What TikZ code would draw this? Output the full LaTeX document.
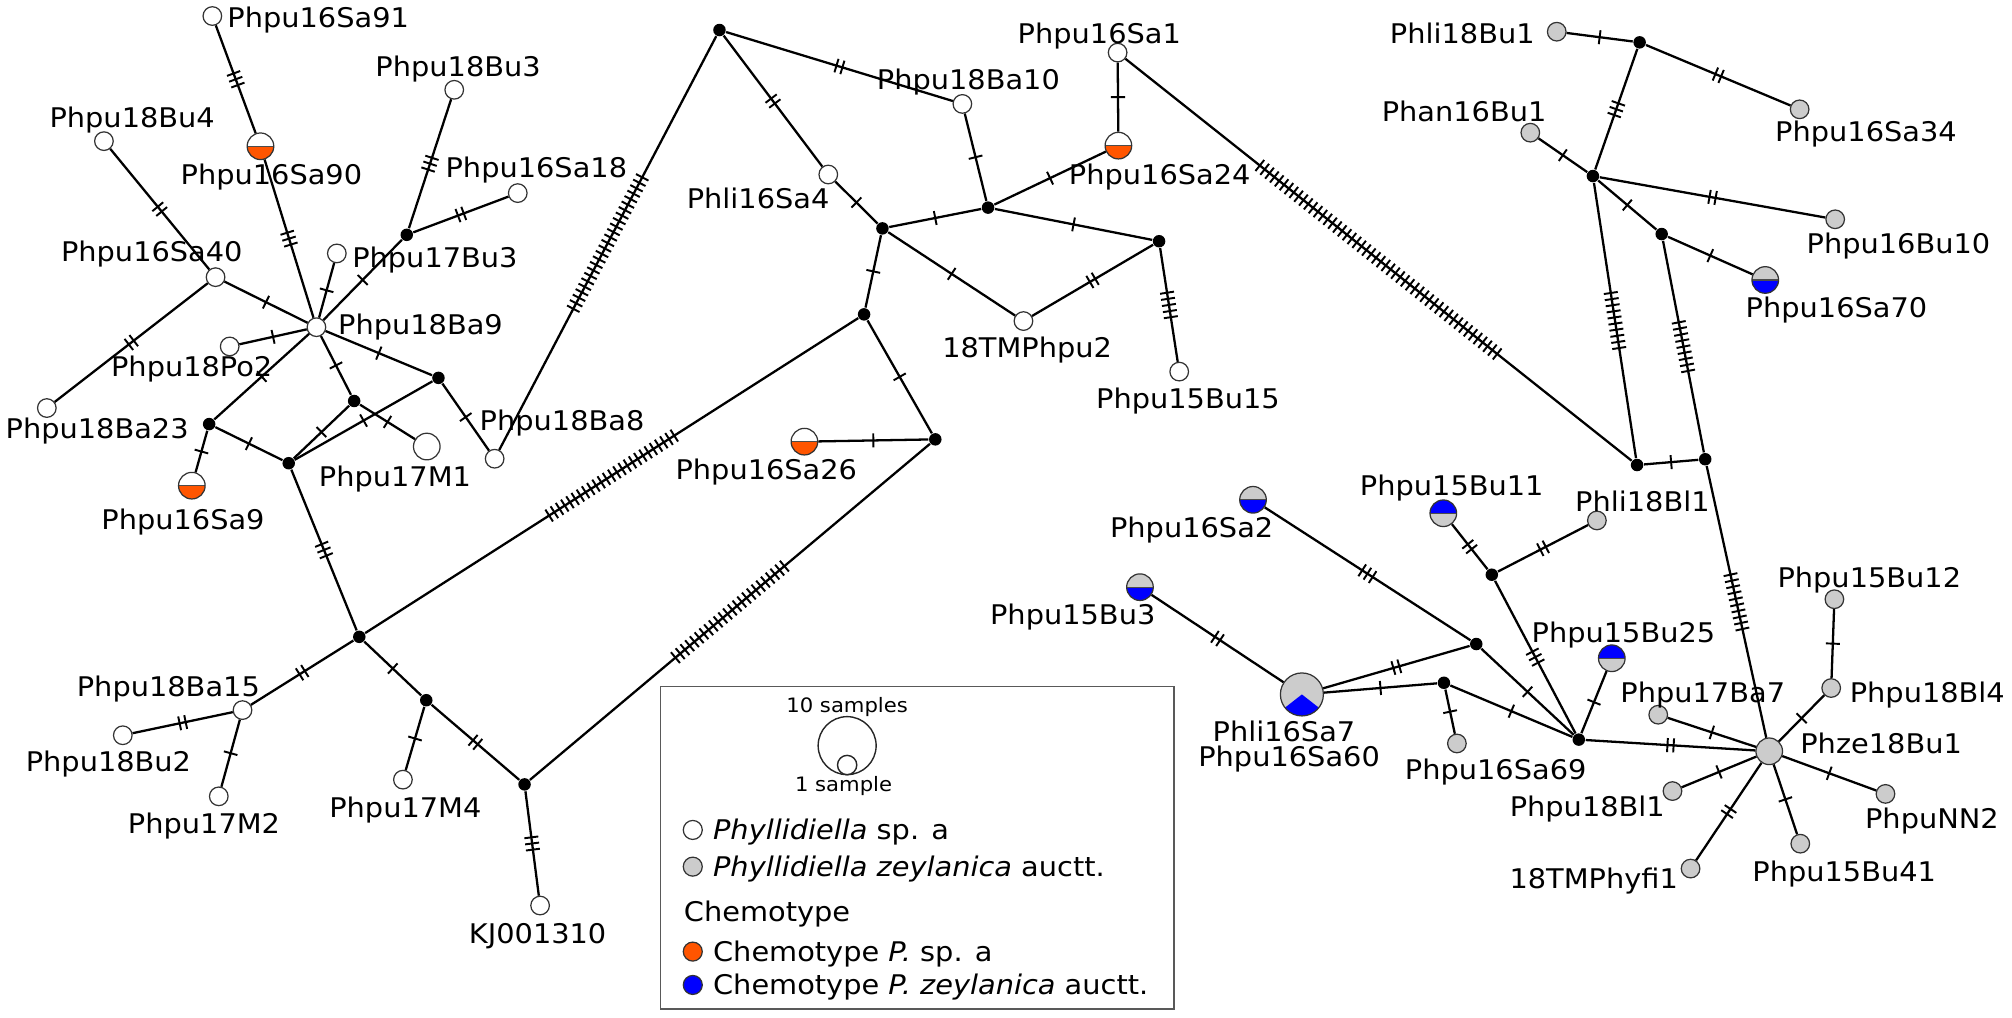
\documentclass[tikz,border=0pt]{standalone}
\usepackage{fontspec}
\setmainfont{DejaVu Sans}[FakeStretch=1.065]
\usetikzlibrary{decorations.markings}
\definecolor{chemo}{RGB}{255,85,0}
\definecolor{zgray}{RGB}{204,204,204}
\definecolor{zblue}{RGB}{0,0,255}
\tikzset{
  edge/.style={line width=0.65pt, black},
  tk/.style={postaction={decorate,decoration={markings,mark=at position 0.5 with {\foreach \k in {1,...,#1}{\draw[line width=0.55pt] ({(\k-(#1+1)/2)*1.76pt},-2pt) -- ({(\k-(#1+1)/2)*1.76pt},2pt);}}}}},
  hap/.style={circle, draw=black!80, line width=0.35pt, inner sep=0pt, minimum size=0.186cm, fill=white},
  hap2/.style={hap, minimum size=0.266cm},
  wh/.style={hap},
  gr/.style={hap, fill=zgray},
  dot/.style={circle, fill=black, inner sep=0pt, minimum size=0.125cm},
  split/.style 2 args={hap2, fill=#1, path picture={\fill[#2] (path picture bounding box.west) rectangle (path picture bounding box.south east); \draw[line width=0.35pt, black!70] (path picture bounding box.west) -- (path picture bounding box.east);}},
  lab/.style={font=\fontsize{7.7pt}{9pt}\selectfont, inner sep=0pt, text height=5.6pt, text depth=0pt, text=black},
  smalllab/.style={font=\fontsize{5.65pt}{6.5pt}\selectfont, inner sep=0pt, text height=4.12pt, text depth=0pt, text=black},
}
\begin{document}
\begin{tikzpicture}[x=0.012832cm, y=-0.012832cm]
\useasboundingbox (0,0) rectangle (1568,793);
% ---------- left cluster
\node[wh] (sa91) at (165.5,12.5) {};
\node[wh] (bu3) at (354,70) {};
\node[wh] (bu4) at (81,110) {};
\node[split={white}{chemo}] (sa90) at (203,114) {};
\node[dot] (nA) at (317,183) {};
\node[wh] (sa18) at (403.5,150.5) {};
\node[wh] (b17bu3) at (262.5,197.5) {};
\node[wh] (sa40) at (168,216) {};
\node[wh] (ba9) at (246.6,255) {};
\node[wh] (ba23) at (36.5,318) {};
\node[wh] (po2) at (179,270) {};
\node[dot] (nB) at (341.7,294.5) {};
\node[dot] (nC) at (276,312.5) {};
\node[hap2] (m1) at (332.6,348) {};
\node[dot] (nD) at (163,330.5) {};
\node[dot] (nE) at (225,361) {};
\node[wh] (ba8) at (385.5,357.5) {};
\node[split={white}{chemo}] (sa9) at (149.5,378.5) {};
\node[dot] (nF) at (280,496.3) {};
\node[wh] (ba15) at (189,553.4) {};
\node[wh] (bu2) at (95.7,573) {};
\node[wh] (m2) at (170.5,620.6) {};
\node[dot] (nG) at (332.2,545.7) {};
\node[wh] (m4) at (314,607.6) {};
\node[dot] (nH) at (408.8,611.3) {};
\node[wh] (kj) at (420.9,705.7) {};
% ---------- middle
\node[dot] (nK) at (560.7,23.4) {};
\node[wh] (ba10) at (750,81) {};
\node[wh] (sa4) at (645.5,136) {};
\node[dot] (nL) at (687.7,178) {};
\node[dot] (nM) at (770,161.8) {};
\node[wh] (sa1) at (871,41) {};
\node[split={white}{chemo}] (sa24) at (871.6,113.5) {};
\node[dot] (nN) at (903.3,188) {};
\node[wh] (tm2) at (797.6,250.2) {};
\node[wh] (bu15) at (919,289.6) {};
\node[dot] (nI) at (673.4,245) {};
\node[dot] (nJ) at (728.9,342.4) {};
\node[split={white}{chemo}] (sa26) at (626.9,344.2) {};
% ---------- right
\node[gr] (li18bu1) at (1213.2,24.7) {};
\node[dot] (nO) at (1277.8,33) {};
\node[gr] (sa34) at (1402.5,85.2) {};
\node[gr] (an16bu1) at (1192.6,103.4) {};
\node[dot] (nP) at (1241.4,137.2) {};
\node[gr] (bu10) at (1430.2,170.9) {};
\node[dot] (nQ) at (1295,182.4) {};
\node[split={zgray}{zblue}] (sa70) at (1375.7,218.2) {};
\node[dot] (nR) at (1275.8,362.4) {};
\node[dot] (nS) at (1328.9,357.9) {};
\node[split={zgray}{zblue}] (sa2) at (976.5,389.5) {};
\node[split={zblue}{zgray}] (bu11) at (1124.8,400) {};
\node[gr] (li18bl1) at (1244.5,405.6) {};
\node[dot] (nT) at (1162.6,447.9) {};
\node[split={zgray}{zblue}] (bu3b) at (888.4,457.6) {};
\node[dot] (nU) at (1150.5,501.9) {};
\node[hap, fill=zgray, minimum size=0.43cm, path picture={\fill[zblue] (path picture bounding box.center) -- ++(-142:0.5cm) -- ++(0.788cm,0pt) -- cycle;}] (sa7) at (1014.6,541.2) {};
\node[dot] (nV) at (1125.3,532.1) {};
\node[gr] (sa69) at (1135.4,579.4) {};
\node[dot] (nW) at (1230.4,576.4) {};
\node[split={zblue}{zgray}] (bu25) at (1256.1,513) {};
\node[gr, minimum size=0.266cm] (ze) at (1378.8,585.5) {};
\node[gr] (bu12) at (1429.6,467) {};
\node[gr] (bl4) at (1427.1,536.2) {};
\node[gr] (ba7) at (1292.3,557) {};
\node[gr] (bl1) at (1303.4,616.5) {};
\node[gr] (nn2) at (1469.4,618.7) {};
\node[gr] (bu41) at (1403,657.5) {};
\node[gr] (fi1) at (1317.5,676.9) {};
% ---------- edges left
\draw[edge,tk=3] (sa91) -- (sa90);
\draw[edge,tk=3] (sa90) -- (ba9);
\draw[edge,tk=3] (bu3) -- (nA);
\draw[edge,tk=2] (nA) -- (sa18);
\draw[edge,tk=1] (nA) -- (ba9);
\draw[edge,tk=1] (b17bu3) -- (ba9);
\draw[edge,tk=2] (bu4) -- (sa40);
\draw[edge,tk=1] (sa40) -- (ba9);
\draw[edge,tk=2] (sa40) -- (ba23);
\draw[edge,tk=1] (po2) -- (ba9);
\draw[edge,tk=1] (ba9) -- (nB);
\draw[edge,tk=1] (ba9) -- (nC);
\draw[edge,tk=1] (ba9) -- (nD);
\draw[edge,tk=1] (nC) -- (m1);
\draw[edge,tk=1] (nC) -- (nE);
\draw[edge,tk=1] (nE) -- (nB);
\draw[edge,tk=1] (nD) -- (nE);
\draw[edge,tk=1] (nD) -- (sa9);
\draw[edge,tk=1] (nB) -- (ba8);
\draw[edge,tk=3] (nE) -- (nF);
\draw[edge,tk=2] (nF) -- (ba15);
\draw[edge,tk=2] (ba15) -- (bu2);
\draw[edge,tk=1] (ba15) -- (m2);
\draw[edge,tk=1] (nF) -- (nG);
\draw[edge,tk=1] (nG) -- (m4);
\draw[edge,tk=2] (nG) -- (nH);
\draw[edge,tk=3] (nH) -- (kj);
% ---------- edges middle
\draw[edge,tk=25] (nK) -- (ba8);
\draw[edge,tk=2] (nK) -- (ba10);
\draw[edge,tk=2] (nK) -- (sa4);
\draw[edge,tk=1] (sa4) -- (nL);
\draw[edge,tk=1] (nL) -- (nM);
\draw[edge,tk=1] (ba10) -- (nM);
\draw[edge,tk=1] (nM) -- (sa24);
\draw[edge,tk=1] (sa1) -- (sa24);
\draw[edge,tk=1] (nM) -- (nN);
\draw[edge,tk=1] (nL) -- (tm2);
\draw[edge,tk=2] (nN) -- (tm2);
\draw[edge,tk=5] (nN) -- (bu15);
\draw[edge,tk=1] (nL) -- (nI);
\draw[edge,tk=1] (nI) -- (nJ);
\draw[edge,tk=1] (nJ) -- (sa26);
\draw[edge,tk=25] (nI) -- (nF);
\draw[edge,tk=24] (nJ) -- (nH);
% ---------- edges right
\draw[edge,tk=1] (li18bu1) -- (nO);
\draw[edge,tk=2] (nO) -- (sa34);
\draw[edge,tk=3] (nO) -- (nP);
\draw[edge,tk=1] (an16bu1) -- (nP);
\draw[edge,tk=2] (nP) -- (bu10);
\draw[edge,tk=1] (nP) -- (nQ);
\draw[edge,tk=1] (nQ) -- (sa70);
\draw[edge,tk=10] (nP) -- (nR);
\draw[edge,tk=9] (nQ) -- (nS);
\draw[edge,tk=1] (nR) -- (nS);
\draw[edge,tk=50] (sa1) -- (nR);
\draw[edge,tk=10] (nS) -- (ze);
\draw[edge,tk=3] (sa2) -- (nU);
\draw[edge,tk=2] (bu11) -- (nT);
\draw[edge,tk=2] (li18bl1) -- (nT);
\draw[edge,tk=3] (nT) -- (nW);
\draw[edge,tk=2] (bu3b) -- (sa7);
\draw[edge,tk=2] (sa7) -- (nU);
\draw[edge,tk=1] (sa7) -- (nV);
\draw[edge,tk=1] (nV) -- (sa69);
\draw[edge,tk=1] (nV) -- (nW);
\draw[edge,tk=1] (nU) -- (nW);
\draw[edge,tk=1] (bu25) -- (nW);
\draw[edge,tk=2] (nW) -- (ze);
\draw[edge,tk=1] (ze) -- (ba7);
\draw[edge,tk=1] (ze) -- (bl4);
\draw[edge,tk=1] (bl4) -- (bu12);
\draw[edge,tk=1] (ze) -- (bl1);
\draw[edge,tk=2] (ze) -- (fi1);
\draw[edge,tk=1] (ze) -- (bu41);
\draw[edge,tk=1] (ze) -- (nn2);
% ---------- labels
\node[lab,anchor=west] (l-sa91) at (176.7,14) {Phpu16Sa91};
\node[lab] (l-bu3) at (357,52) {Phpu18Bu3};
\node[lab] (l-bu4) at (103,91.4) {Phpu18Bu4};
\node[lab] (l-sa90) at (211.5,136.4) {Phpu16Sa90};
\node[lab] (l-sa18) at (418,131) {Phpu16Sa18};
\node[lab,anchor=west] (l-17bu3) at (274,201) {Phpu17Bu3};
\node[lab] (l-sa40) at (118.3,196.1) {Phpu16Sa40};
\node[lab,anchor=west] (l-ba9) at (263,253.3) {Phpu18Ba9};
\node[lab] (l-ba23) at (75.7,333.8) {Phpu18Ba23};
\node[lab] (l-po2) at (149.4,285.7) {Phpu18Po2};
\node[lab] (l-m1) at (307.8,371.5) {Phpu17M1};
\node[lab] (l-ba8) at (438,328) {Phpu18Ba8};
\node[lab] (l-sa9) at (142.6,405.2) {Phpu16Sa9};
\node[lab] (l-ba15) at (131.2,535) {Phpu18Ba15};
\node[lab] (l-bu2) at (84.5,593.2) {Phpu18Bu2};
\node[lab] (l-m2) at (159,642) {Phpu17M2};
\node[lab] (l-m4) at (315.9,629.1) {Phpu17M4};
\node[lab] (l-kj) at (419,728) {KJ001310};
\node[lab] (l-ba10) at (754.7,62.3) {Phpu18Ba10};
\node[lab] (l-sa4) at (590.8,155.1) {Phli16Sa4};
\node[lab] (l-sa1) at (856.7,26) {Phpu16Sa1};
\node[lab] (l-sa24) at (903.8,136.4) {Phpu16Sa24};
\node[lab] (l-tm2) at (800.5,270.9) {18TMPhpu2};
\node[lab] (l-bu15) at (925.8,310.9) {Phpu15Bu15};
\node[lab] (l-sa26) at (597.2,366.3) {Phpu16Sa26};
\node[lab] (l-li18bu1) at (1139.6,26) {Phli18Bu1};
\node[lab] (l-sa34) at (1454.2,102.6) {Phpu16Sa34};
\node[lab] (l-an16bu1) at (1141,87) {Phan16Bu1};
\node[lab] (l-bu10) at (1479.5,189.6) {Phpu16Bu10};
\node[lab] (l-sa70) at (1431.2,239.5) {Phpu16Sa70};
\node[lab] (l-sa2) at (928.7,411.6) {Phpu16Sa2};
\node[lab] (l-bu11) at (1131.4,378.4) {Phpu15Bu11};
\node[lab] (l-li18bl1) at (1280,391) {Phli18Bl1};
\node[lab] (l-bu3b) at (836,479) {Phpu15Bu3};
\node[lab] (l-sa7) at (1000.6,570.3) {Phli16Sa7};
\node[lab] (l-sa60) at (1004.6,589.7) {Phpu16Sa60};
\node[lab] (l-sa69) at (1165.6,599.9) {Phpu16Sa69};
\node[lab] (l-bu25) at (1265.2,493.3) {Phpu15Bu25};
\node[lab] (l-ze) at (1466,579.8) {Phze18Bu1};
\node[lab] (l-bu12) at (1456.8,449.8) {Phpu15Bu12};
\node[lab] (l-bl4) at (1502,539.8) {Phpu18Bl4};
\node[lab] (l-ba7) at (1327,539.8) {Phpu17Ba7};
\node[lab] (l-bl1) at (1237,628.4) {Phpu18Bl1};
\node[lab] (l-nn2) at (1505.6,638.2) {PhpuNN2};
\node[lab] (l-bu41) at (1437.2,679.6) {Phpu15Bu41};
\node[lab] (l-fi1) at (1242,684.7) {18TMPhyfi1};
% ---------- legend
\draw[draw=black!65, line width=0.5pt] (514.7,535.1) rectangle (915.2,786.6);
\node[smalllab] (lg10) at (660.2,549.4) {10 samples};
\node[circle, draw=black!85, line width=0.4pt, inner sep=0pt, minimum size=0.58cm] (lgbig) at (660.2,581.1) {};
\node[circle, draw=black!85, line width=0.4pt, inner sep=0pt, minimum size=0.193cm, fill=white] (lgsmall) at (660.2,596.2) {};
\node[smalllab] (lg1) at (657.4,611.2) {1 sample};
\node[hap, minimum size=0.19cm] (lgw) at (539.9,646.8) {};
\node[lab,anchor=west] (lgwt) at (555.2,646.8) {\textit{Phyllidiella} sp. a};
\node[gr, minimum size=0.19cm] (lgg) at (539.9,675.4) {};
\node[lab,anchor=west] (lggt) at (555.2,675.4) {\textit{Phyllidiella zeylanica} auctt.};
\node[lab,anchor=west] (lgc) at (532.5,710.5) {Chemotype};
\node[hap, fill=chemo, minimum size=0.19cm] (lgo) at (539.9,741.6) {};
\node[lab,anchor=west] (lgot) at (555.2,741.6) {Chemotype \textit{P.} sp. a};
\node[hap, fill=zblue, minimum size=0.19cm] (lgb) at (539.9,767.6) {};
\node[lab,anchor=west] (lgbt) at (555.2,767.6) {Chemotype \textit{P. zeylanica} auctt.};
\end{tikzpicture}
\end{document}
